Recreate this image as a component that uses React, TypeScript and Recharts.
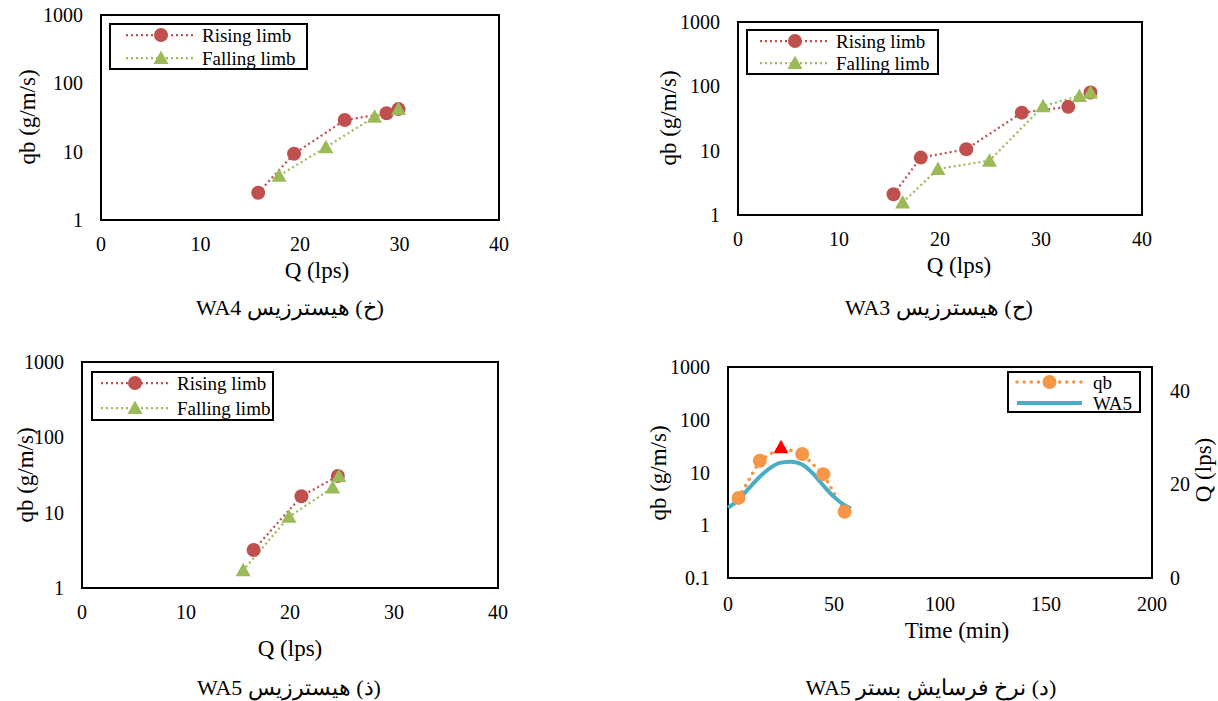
import React from 'react';
import { LineChart, Line, XAxis, YAxis, ReferenceArea } from 'recharts';

const FONT = "'Liberation Serif', 'Times New Roman', serif";
const RED = '#C0504D';
const GREEN = '#9BBB59';
const ORANGE = '#F79646';
const BLUE = '#4BACC6';

// WA4 hysteresis
const wa4RisingQ = [15.8, 19.4, 24.5, 28.7, 29.9];
const wa4RisingQb = [2.5, 9.3, 29, 36.5, 42];
const wa4FallingQ = [29.9, 27.5, 22.6, 17.9];
const wa4FallingQb = [42, 32.5, 11.6, 4.45];

// WA3 hysteresis
const wa3RisingQ = [15.4, 18.1, 22.6, 28.1, 32.7, 34.9];
const wa3RisingQb = [2.1, 7.8, 10.5, 39, 48, 80];
const wa3FallingQ = [34.9, 33.8, 30.2, 24.9, 19.8, 16.3];
const wa3FallingQb = [80, 71, 49, 7.0, 5.2, 1.57];

// WA5 hysteresis
const wa5RisingQ = [16.5, 21.1, 24.6];
const wa5RisingQb = [3.2, 16.5, 30.7];
const wa5FallingQ = [24.7, 24.1, 19.9, 15.5];
const wa5FallingQb = [30.7, 21.5, 8.8, 1.72];

// WA5 bed erosion rate over time
const qbTime = [5, 15, 25, 35, 45, 55];
const qbValues = [3.3, 16.7, 30, 22.4, 9.3, 1.8];
const peakIndex = 2;
const flowTime = [0, 5, 10, 15, 20, 25, 30, 35, 40, 45, 50, 55, 58];
const flowValues = [15.0, 16.7, 19.2, 21.6, 23.5, 24.6, 24.8, 24.2, 22.3, 19.7, 17.3, 15.5, 14.8];

const qTicks = [0, 10, 20, 30, 40];
const qbTicks = [1, 10, 100, 1000];
const qbTicksTime = [0.1, 1, 10, 100, 1000];
const timeTicks = [0, 50, 100, 150, 200];
const flowTicks = [0, 20, 40];

// captions, in reading (logical) order
const captionWA4 = ['(خ)', 'هیسترزیس', 'WA4'];
const captionWA3 = ['(ح)', 'هیسترزیس', 'WA3'];
const captionWA5 = ['(ذ)', 'هیسترزیس', 'WA5'];
const captionRate = ['(د)', 'نرخ', 'فرسایش', 'بستر', 'WA5'];

const zip = (xs: number[], ys: number[]) => xs.map((x, i) => ({ x, y: ys[i] }));

const tickStyle = { fontSize: 20, fill: '#000', fontFamily: FONT };

const circleDot = (color: string, r = 7) => (p: any) =>
  <circle key={`c-${p.index}`} cx={p.cx} cy={p.cy} r={r} fill={color} />;

const triPath = (cx: number, cy: number) =>
  `M${cx},${cy - 7.5} L${cx + 7.5},${cy + 6} L${cx - 7.5},${cy + 6} Z`;

const triangleDot = (color: string) => (p: any) =>
  <path key={`t-${p.index}`} d={triPath(p.cx, p.cy)} fill={color} />;

type Title = { x: number; y: number; text: string; vertical?: boolean };

function Titles({ w, h, titles }: { w: number; h: number; titles: Title[] }) {
  return (
    <svg width={w} height={h} style={{ position: 'absolute', left: 0, top: 0, pointerEvents: 'none' }}>
      {titles.map(t => (
        <text key={t.text + t.x} x={t.x} y={t.y} textAnchor="middle" dominantBaseline="central"
              transform={t.vertical ? `rotate(-90 ${t.x} ${t.y})` : undefined}
              style={{ fontFamily: FONT, fontSize: 23 }} fill="#000">{t.text}</text>
      ))}
    </svg>
  );
}

type LegendItem = { label: string; color: string; marker: 'circle' | 'triangle' | 'none'; dash?: string; width: number; cap?: string };

function LegendBox({ left, top, w, h, items, lineX, lineLen, textX, rows }:
  { left: number; top: number; w: number; h: number; items: LegendItem[]; lineX: number; lineLen: number; textX: number; rows: number[] }) {
  return (
    <svg width={w} height={h} style={{ position: 'absolute', left, top }}>
      <rect x={1} y={1} width={w - 2} height={h - 2} fill="#fff" stroke="#000" strokeWidth={2} />
      {items.map((it, i) => {
        const y = rows[i];
        const mx = lineX + lineLen / 2;
        return (
          <g key={it.label}>
            <line x1={lineX} x2={lineX + lineLen} y1={y} y2={y} stroke={it.color} strokeWidth={it.width}
                  strokeDasharray={it.dash} strokeLinecap={(it.cap as any) || 'butt'} />
            {it.marker === 'circle' && <circle cx={mx} cy={y} r={7} fill={it.color} />}
            {it.marker === 'triangle' && <path d={triPath(mx, y)} fill={it.color} />}
            <text x={textX} y={y} dominantBaseline="central" style={{ fontFamily: FONT, fontSize: 19 }} fill="#000">{it.label}</text>
          </g>
        );
      })}
    </svg>
  );
}

const limbItems: LegendItem[] = [
  { label: 'Rising limb', color: RED, marker: 'circle', dash: '2 3', width: 2.25 },
  { label: 'Falling limb', color: GREEN, marker: 'triangle', dash: '2 3', width: 2.25 },
];

function Hysteresis({ left, top, width, height, yw, mt, mr, xh, rising, falling, yTitle, xTitle, legend }: any) {
  return (
    <div style={{ position: 'absolute', left, top, width, height }}>
      <LineChart width={width} height={height} margin={{ top: mt, right: mr, bottom: 0, left: 0 }}>
        <XAxis type="number" dataKey="x" domain={[0, 40]} ticks={qTicks} interval={0}
               tickLine={false} axisLine={false} tickSize={0} tickMargin={17} height={xh} tick={tickStyle} />
        <YAxis type="number" scale="log" domain={[1, 1000]} ticks={qbTicks} interval={0} allowDataOverflow
               tickLine={false} axisLine={false} tickSize={0} tickMargin={18} width={yw} tick={tickStyle} />
        <ReferenceArea x1={0} x2={40} y1={1} y2={1000} fill="none" stroke="#000" strokeWidth={2} ifOverflow="visible" />
        <Line data={rising} dataKey="y" type="linear" stroke={RED} strokeWidth={2.25} strokeDasharray="2 3"
              dot={circleDot(RED)} activeDot={false} isAnimationActive={false} />
        <Line data={falling} dataKey="y" type="linear" stroke={GREEN} strokeWidth={2.25} strokeDasharray="2 3"
              dot={triangleDot(GREEN)} activeDot={false} isAnimationActive={false} />
      </LineChart>
      <Titles w={width} h={height} titles={[
        { x: xTitle[0], y: xTitle[1], text: 'Q (lps)' },
        { x: yTitle[0], y: yTitle[1], text: 'qb (g/m/s)', vertical: true },
      ]} />
      <LegendBox {...legend} items={limbItems} />
    </div>
  );
}

function ErosionChart() {
  const qb = zip(qbTime, qbValues);
  const flow = zip(flowTime, flowValues);
  const qbDot = (p: any) => p.index === peakIndex
    ? <path key={`p-${p.index}`} d={triPath(p.cx, p.cy)} fill="#FF0000" />
    : <circle key={`q-${p.index}`} cx={p.cx} cy={p.cy} r={7} fill={ORANGE} />;
  const W = 578, H = 318;
  return (
    <div style={{ position: 'absolute', left: 640, top: 340, width: W, height: H }}>
      <LineChart width={W} height={H} margin={{ top: 27, right: 0, bottom: 0, left: 0 }}>
        <XAxis type="number" dataKey="x" domain={[0, 200]} ticks={timeTicks} interval={0}
               tickLine={false} axisLine={false} tickSize={0} tickMargin={19} height={80} tick={tickStyle} />
        <YAxis yAxisId="left" type="number" scale="log" domain={[0.1, 1000]} ticks={qbTicksTime} interval={0} allowDataOverflow
               tickLine={false} axisLine={false} tickSize={0} tickMargin={18} width={88} tick={tickStyle} />
        <YAxis yAxisId="right" orientation="right" type="number" domain={[0, 45]} ticks={flowTicks} interval={0}
               tickLine={false} axisLine={false} tickSize={0} tickMargin={18} width={66} tick={tickStyle} />
        <ReferenceArea yAxisId="left" x1={0} x2={200} y1={0.1} y2={1000} fill="none" stroke="#000" strokeWidth={2} ifOverflow="visible" />
        <Line yAxisId="left" data={qb} dataKey="y" type="linear" stroke={ORANGE} strokeWidth={3.5}
              strokeDasharray="0.1 7" strokeLinecap="round" dot={qbDot} activeDot={false} isAnimationActive={false} />
        <Line yAxisId="right" data={flow} dataKey="y" type="monotone" stroke={BLUE} strokeWidth={4}
              dot={false} activeDot={false} isAnimationActive={false} />
      </LineChart>
      <Titles w={W} h={H} titles={[
        { x: 317, y: 290, text: 'Time (min)' },
        { x: 18, y: 133, text: 'qb (g/m/s)', vertical: true },
        { x: 563, y: 130, text: 'Q (lps)', vertical: true },
      ]} />
      <LegendBox left={367} top={31} w={134} h={42} lineX={10} lineLen={65} textX={86} rows={[11, 32]}
                 items={[
                   { label: 'qb', color: ORANGE, marker: 'circle', dash: '0.1 7', width: 3.5, cap: 'round' },
                   { label: 'WA5', color: BLUE, marker: 'none', width: 4 },
                 ]} />
    </div>
  );
}

function Caption({ cx, cy, parts }: { cx: number; cy: number; parts: string[] }) {
  return (
    <div dir="rtl" style={{ position: 'absolute', left: cx - 200, top: cy - 13, width: 400, textAlign: 'center',
      fontSize: 22, lineHeight: '26px', fontFamily: FONT, color: '#000', whiteSpace: 'nowrap' }}>
      {parts.map((p, i) => (
        <React.Fragment key={i}>
          {i > 0 ? ' ' : ''}
          {/[\u0600-\u06FF]/.test(p)
            ? <span>{p}</span>
            : <span dir="ltr" style={{ fontFamily: FONT }}>{p}</span>}
        </React.Fragment>
      ))}
    </div>
  );
}

export default function App() {
  return (
    <div style={{ position: 'absolute', left: 0, top: 0, width: 1218, height: 701, background: '#fff', overflow: 'hidden' }}>
      <Hysteresis left={0} top={0} width={520} height={290} yw={101} mt={15} mr={21} xh={70}
                  rising={zip(wa4RisingQ, wa4RisingQb)} falling={zip(wa4FallingQ, wa4FallingQb)}
                  yTitle={[27, 117]} xTitle={[317, 270]}
                  legend={{ left: 109, top: 23, w: 199, h: 47, lineX: 17, lineLen: 70, textX: 93, rows: [12, 35] }} />
      <Hysteresis left={640} top={0} width={522} height={285} yw={98} mt={22} mr={20} xh={70}
                  rising={zip(wa3RisingQ, wa3RisingQb)} falling={zip(wa3FallingQ, wa3FallingQb)}
                  yTitle={[28, 118]} xTitle={[319, 265]}
                  legend={{ left: 106, top: 29, w: 193, h: 46, lineX: 14, lineLen: 70, textX: 90, rows: [12, 34] }} />
      <Hysteresis left={0} top={340} width={520} height={328} yw={82} mt={22} mr={22} xh={80}
                  rising={zip(wa5RisingQ, wa5RisingQb)} falling={zip(wa5FallingQ, wa5FallingQb)}
                  yTitle={[25, 135]} xTitle={[290, 308]}
                  legend={{ left: 91, top: 31, w: 183, h: 50, lineX: 10, lineLen: 68, textX: 86, rows: [12, 37] }} />
      <ErosionChart />
      <Caption cx={290} cy={308} parts={captionWA4} />
      <Caption cx={939} cy={308} parts={captionWA3} />
      <Caption cx={289} cy={688} parts={captionWA5} />
      <Caption cx={931} cy={688} parts={captionRate} />
    </div>
  );
}
